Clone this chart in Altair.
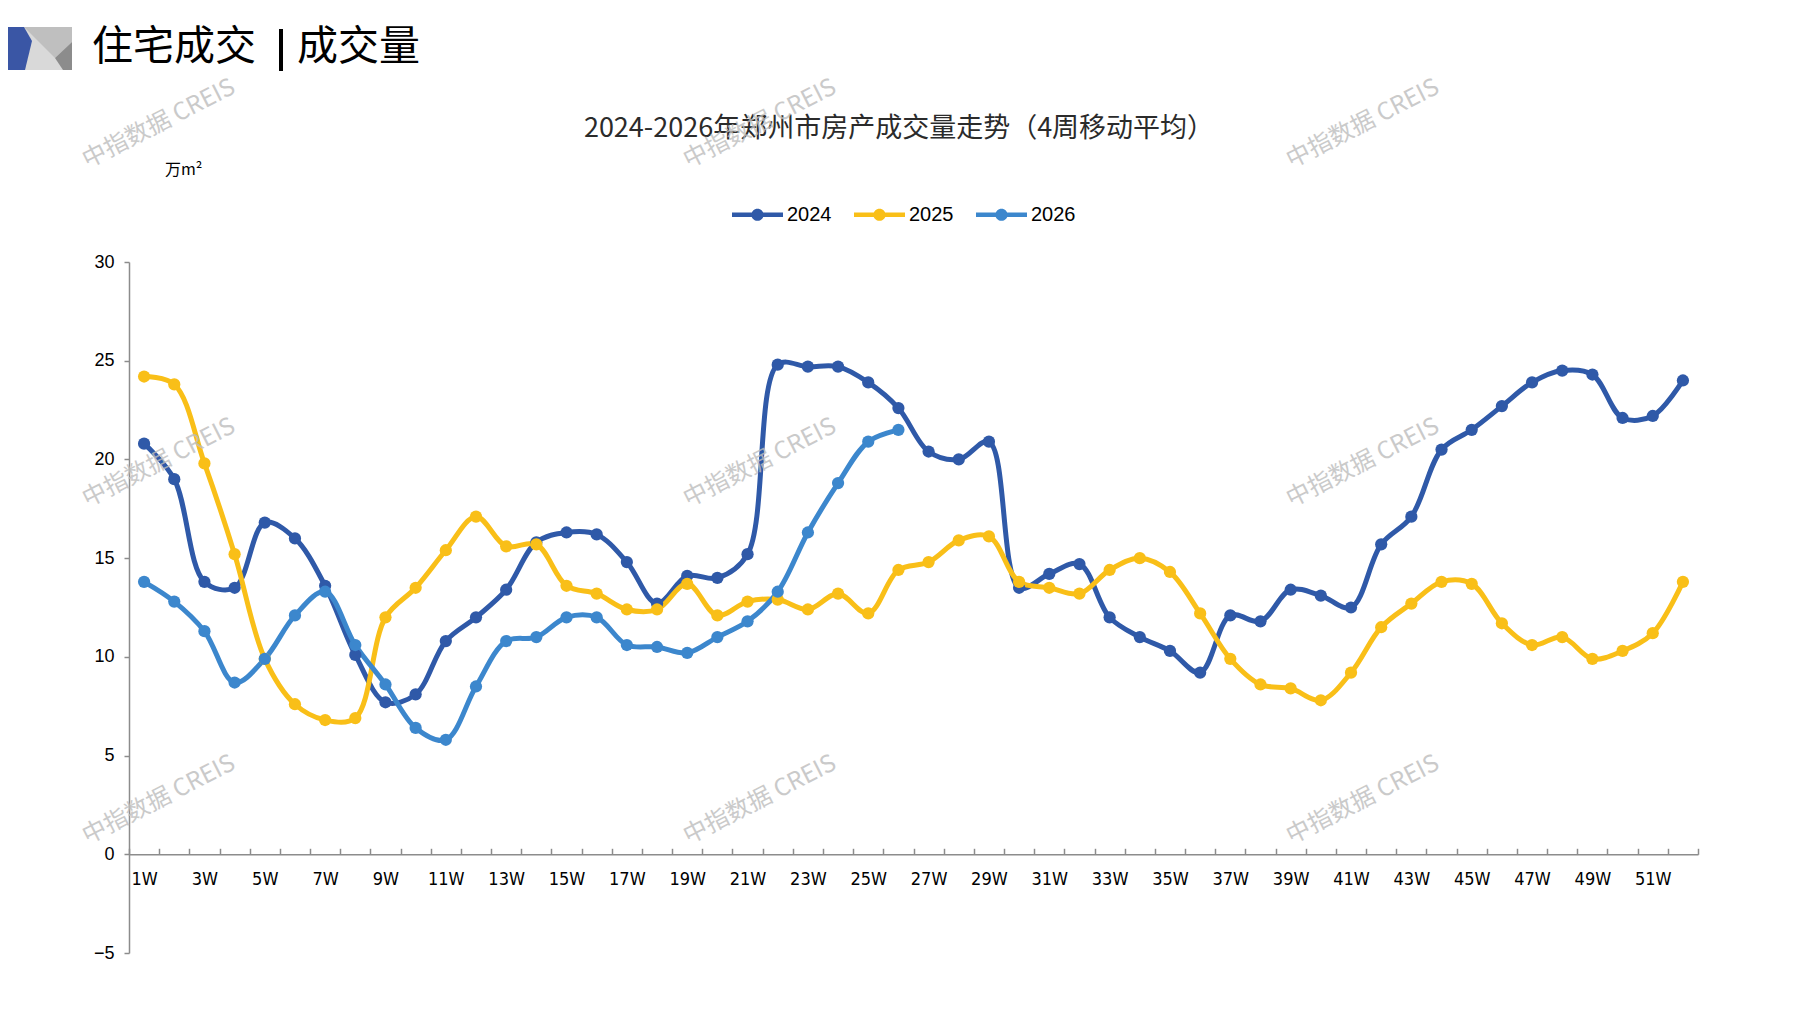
import pandas as pd
import altair as alt

weeks = [f"{i}W" for i in range(1, 53)]
years = ["2024", "2025", "2026"]

v2024 = [20.8, 19.0, 13.8, 13.5, 16.8, 16.0, 13.6, 10.1, 7.7, 8.1,
         10.8, 12.0, 13.4, 15.8, 16.3, 16.2, 14.8, 12.7, 14.1, 14.0,
         15.2, 24.8, 24.7, 24.7, 23.9, 22.6, 20.4, 20.0, 20.9, 13.5,
         14.2, 14.7, 12.0, 11.0, 10.3, 9.2, 12.1, 11.8, 13.4, 13.1,
         12.5, 15.7, 17.1, 20.5, 21.5, 22.7, 23.9, 24.5, 24.3, 22.1,
         22.2, 24.0]
v2025 = [24.2, 23.8, 19.8, 15.2, 9.9, 7.6, 6.8, 6.9, 12.0, 13.5,
         15.4, 17.1, 15.6, 15.7, 13.6, 13.2, 12.4, 12.4, 13.7, 12.1,
         12.8, 12.9, 12.4, 13.2, 12.2, 14.4, 14.8, 15.9, 16.1, 13.8,
         13.5, 13.2, 14.4, 15.0, 14.3, 12.2, 9.9, 8.6, 8.4, 7.8,
         9.2, 11.5, 12.7, 13.8, 13.7, 11.7, 10.6, 11.0, 9.9, 10.3,
         11.2, 13.8]
v2026 = [13.8, 12.8, 11.3, 8.7, 9.9, 12.1, 13.3, 10.6, 8.6, 6.4,
         5.8, 8.5, 10.8, 11.0, 12.0, 12.0, 10.6, 10.5, 10.2, 11.0,
         11.8, 13.3, 16.3, 18.8, 20.9, 21.5]

y_ticks = [-5, 0, 5, 10, 15, 20, 25, 30]
colors = ["#2F59A8", "#F9BF18", "#3C87CD"]

rows = []
for yr, vals in zip(years, [v2024, v2025, v2026]):
    for wk, v in zip(weeks, vals):
        rows.append({"week": wk, "year": yr, "value": v})
df = pd.DataFrame(rows)

W, H = 1569, 691
zero_px = H * 30 / 35  # where y = 0 sits, from the top

x_enc = alt.X(
    "week:O", sort=weeks, bandPosition=0.5,
    scale=alt.Scale(type="band", paddingInner=0, paddingOuter=0),
    axis=alt.Axis(
        orient="top", offset=-zero_px, title=None, grid=False,
        tickBand="extent", tickSize=6, tickColor="#8c8c8c", tickWidth=1.5,
        domainColor="#8c8c8c", domainWidth=1.5,
        labelExpr="parseInt(datum.value) % 2 == 1 ? datum.value : ''",
        labelAngle=0, labelBaseline="middle", labelPadding=-31,
        labelOverlap=False, labelFont="Liberation Sans Narrow, DejaVu Sans Condensed, sans-serif",
        labelFontSize=18, labelColor="#000000",
    ),
)
y_enc = alt.Y(
    "value:Q",
    scale=alt.Scale(domain=[-5, 30], nice=False, zero=False),
    axis=alt.Axis(
        values=y_ticks, title=None, grid=False,
        domainColor="#8c8c8c", domainWidth=1.5, tickColor="#8c8c8c",
        tickWidth=1.5, tickSize=5, labelPadding=10,
        labelFont="Liberation Sans", labelFontSize=18, labelColor="#000000",
    ),
)

legend_symbol = ("M-1,-0.09L1,-0.09L1,0.09L-1,0.09Z "
                 "M0.24,0A0.24,0.24 0 1,1 -0.24,0A0.24,0.24 0 1,1 0.24,0Z")

# stroke scale listed in reverse so its hidden legend is not merged with the colour one
lines = alt.Chart(df).mark_line(strokeWidth=5, interpolate="catmull-rom").encode(
    x=x_enc, y=y_enc,
    stroke=alt.Stroke("year:N", scale=alt.Scale(domain=years[::-1], range=colors[::-1]),
                      legend=None),
)
points = alt.Chart(df).mark_circle(size=150, opacity=1).encode(
    x=x_enc, y=y_enc,
    color=alt.Color(
        "year:N", scale=alt.Scale(domain=years, range=colors),
        legend=alt.Legend(
            title=None, orient="none", direction="horizontal",
            legendX=603, legendY=-73, padding=0,
            symbolType=legend_symbol, symbolSize=2601, symbolOpacity=1,
            symbolStrokeWidth=0, labelOffset=4, columnPadding=22,
            labelFont="Liberation Sans", labelFontSize=20, labelColor="#000000",
        ),
    ),
)

one = pd.DataFrame({"k": [0]})


def text(t, x, y, size, font="Noto Sans CJK SC", color="#000000",
         align="left", angle=0, opacity=1):
    return alt.Chart(one).mark_text(
        text=t, align=align, baseline="middle", fontSize=size, font=font,
        color=color, angle=angle, opacity=opacity,
    ).encode(x=alt.value(x), y=alt.value(y))


def shape(path, fill):
    # path drawn in page pixels, size 4 gives a scale of 1
    return alt.Chart(one).mark_point(
        shape=path, filled=True, size=4, opacity=1, strokeWidth=0, color=fill
    ).encode(x=alt.value(-129), y=alt.value(-262))


decor = [
    shape("M24,27L72,27L72,70L24,70Z", "#d9d9d9"),
    shape("M24,27L72,27L72,42L55,58Z", "#bfbfbf"),
    shape("M72,42L72,70L63,70L55,58Z", "#8c8c8c"),
    shape("M0,27L24,27L32,41L25,70L0,70Z", "#3a56a5"),
    text("住宅成交", -37, -214, 41),
    alt.Chart(one).mark_rule(strokeWidth=4, color="#000000").encode(
        x=alt.value(152), y=alt.value(-233), y2=alt.value(-191)),
    text("成交量", 168, -214, 41),
    text("2024-2026年郑州市房产成交量走势（4周移动平均）", 770, -133, 27,
         color="#2b2b2b", align="center"),
    text("万m²", 36, -92, 16),
]
for wx in [30, 631, 1234]:
    for wy in [-138, 201, 538]:
        decor.append(text("中指数据 CREIS", wx, wy, 24, color="#bdbdbd",
                          align="center", angle=333, opacity=0.8))

chart = alt.layer(lines, points, *decor).properties(
    width=W, height=H,
    autosize=alt.AutoSizeParams(type="none"),
    padding={"left": 121, "top": 254, "right": 20, "bottom": 40},
).configure_view(stroke=None)

chart.save("out.html", embed_options={"renderer": "svg", "actions": False})
